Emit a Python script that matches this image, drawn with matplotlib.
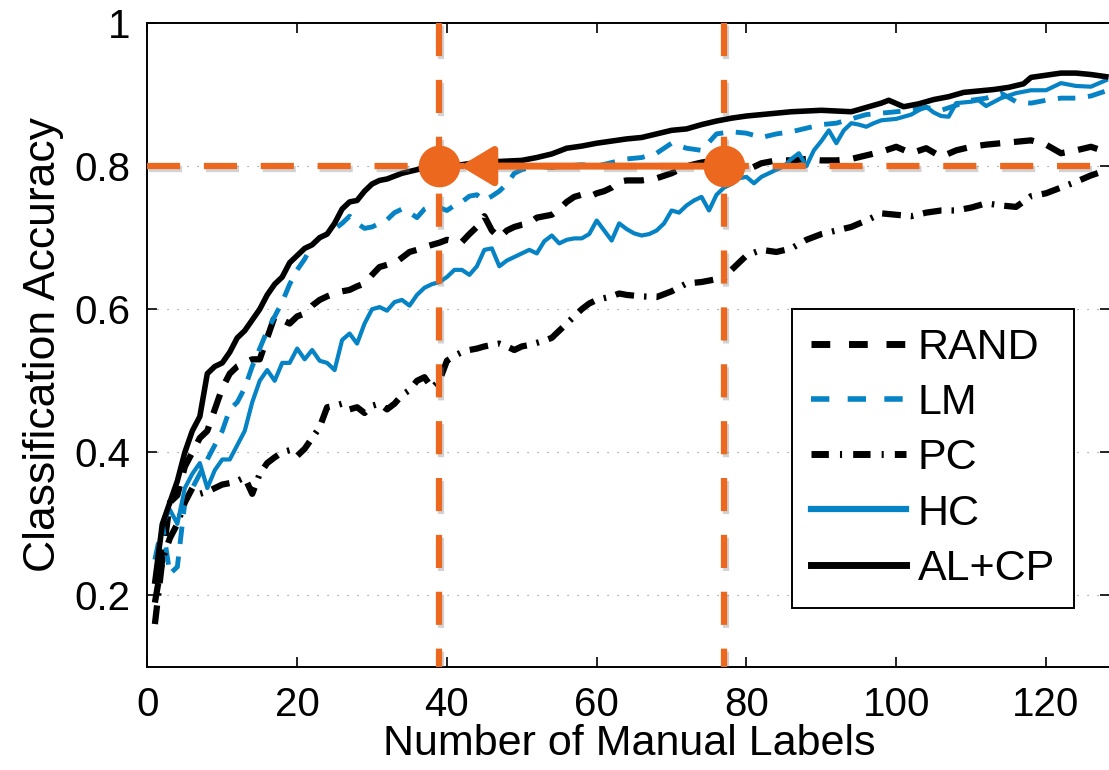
import matplotlib
matplotlib.use('Agg')
import matplotlib.pyplot as plt
import matplotlib.patheffects as pe

plt.rcParams['font.family'] = ['Liberation Sans', 'DejaVu Sans']

# Dane (liczba etykiet, dokładność klasyfikacji)
rand_x = [1, 2, 3, 4, 5, 6, 7, 8, 9, 10, 11, 12, 13, 14, 15, 16, 17, 18, 19, 20,
          21, 22, 23, 24, 25, 26, 27, 28, 29, 30, 31, 32, 33, 34, 35, 36, 37, 38, 39, 40,
          41, 42, 43, 44, 45, 46, 47, 48, 49, 50, 51, 52, 53, 54, 55, 56, 57, 58, 59, 60,
          61, 62, 63, 64, 66, 68, 70, 72, 74, 76, 78, 80, 82, 84, 86, 88, 90, 92, 94, 96,
          98, 100, 102, 104, 106, 108, 110, 112, 114, 116, 118, 120, 122, 124, 126, 128]
rand_y = [0.19, 0.25, 0.33, 0.34, 0.38, 0.40, 0.42, 0.43, 0.46, 0.49, 0.51, 0.52, 0.525, 0.53, 0.53, 0.56, 0.59, 0.585, 0.58, 0.59,
          0.594, 0.605, 0.613, 0.618, 0.622, 0.625, 0.627, 0.632, 0.636, 0.648, 0.659, 0.662, 0.664, 0.672, 0.68, 0.683, 0.687, 0.69, 0.693, 0.697,
          0.695, 0.694, 0.705, 0.715, 0.73, 0.71, 0.70, 0.71, 0.715, 0.718, 0.72, 0.728, 0.73, 0.732, 0.74, 0.75, 0.757, 0.76, 0.757, 0.762,
          0.765, 0.77, 0.778, 0.78, 0.78, 0.783, 0.79, 0.80, 0.805, 0.808, 0.80, 0.794, 0.804, 0.808, 0.808, 0.81, 0.808, 0.808, 0.81, 0.815,
          0.82, 0.827, 0.818, 0.825, 0.813, 0.822, 0.827, 0.83, 0.832, 0.834, 0.836, 0.83, 0.818, 0.822, 0.827, 0.82]

lm_x = [1, 2, 3, 4, 5, 6, 7, 8, 9, 10, 11, 12, 13, 14, 15, 16, 17, 18, 19, 20,
        21, 22, 23, 24, 25, 26, 27, 28, 29, 30, 31, 32, 33, 34, 35, 36, 37, 38, 39, 40,
        41, 42, 43, 44, 45, 46, 47, 48, 49, 50, 52, 54, 56, 58, 60, 62, 64, 66, 68, 70,
        72, 74, 76, 78, 80, 82, 84, 86, 88, 90, 92, 94, 96, 98, 100, 102, 104, 106, 108, 110,
        112, 114, 116, 118, 120, 122, 124, 126, 128]
lm_y = [0.25, 0.30, 0.23, 0.24, 0.33, 0.35, 0.37, 0.39, 0.41, 0.43, 0.46, 0.47, 0.49, 0.52, 0.545, 0.57, 0.59, 0.61, 0.635, 0.655,
        0.67, 0.69, 0.70, 0.705, 0.712, 0.72, 0.73, 0.72, 0.713, 0.715, 0.72, 0.725, 0.735, 0.74, 0.735, 0.728, 0.74, 0.745, 0.742, 0.738,
        0.745, 0.75, 0.758, 0.76, 0.752, 0.758, 0.765, 0.775, 0.79, 0.795, 0.80, 0.798, 0.80, 0.802, 0.80, 0.805, 0.81, 0.812, 0.818, 0.832,
        0.825, 0.822, 0.845, 0.848, 0.846, 0.84, 0.845, 0.848, 0.853, 0.858, 0.86, 0.866, 0.872, 0.874, 0.876, 0.878, 0.882, 0.878, 0.885, 0.892,
        0.895, 0.902, 0.89, 0.888, 0.892, 0.895, 0.895, 0.898, 0.905]

pc_x = [1, 2, 3, 4, 5, 6, 7, 8, 9, 10, 11, 12, 13, 14, 15, 16, 17, 18, 19, 20,
        21, 22, 23, 24, 25, 26, 27, 28, 29, 30, 31, 32, 33, 34, 35, 36, 37, 38, 39, 40,
        41, 42, 43, 44, 45, 46, 47, 48, 49, 50, 51, 52, 53, 54, 55, 56, 57, 58, 59, 60,
        62, 63, 64, 66, 68, 70, 72, 74, 76, 77, 78, 80, 82, 84, 86, 88, 90, 92, 94, 96,
        98, 100, 102, 104, 106, 108, 110, 112, 114, 116, 118, 120, 122, 124, 126, 128]
pc_y = [0.16, 0.25, 0.28, 0.30, 0.33, 0.35, 0.342, 0.345, 0.35, 0.355, 0.357, 0.36, 0.365, 0.342, 0.37, 0.385, 0.393, 0.40, 0.403, 0.395,
        0.405, 0.42, 0.435, 0.463, 0.465, 0.468, 0.46, 0.463, 0.455, 0.465, 0.468, 0.46, 0.468, 0.48, 0.487, 0.50, 0.505, 0.49, 0.50, 0.528,
        0.535, 0.54, 0.543, 0.545, 0.548, 0.55, 0.552, 0.548, 0.543, 0.548, 0.55, 0.553, 0.556, 0.56, 0.57, 0.58, 0.59, 0.60, 0.608, 0.613,
        0.618, 0.622, 0.62, 0.618, 0.617, 0.625, 0.636, 0.638, 0.642, 0.643, 0.655, 0.675, 0.683, 0.68, 0.685, 0.697, 0.705, 0.71, 0.715, 0.724,
        0.734, 0.732, 0.73, 0.735, 0.738, 0.738, 0.742, 0.748, 0.745, 0.743, 0.758, 0.762, 0.77, 0.778, 0.787, 0.794]

hc_x = [1, 2, 3, 4, 5, 6, 7, 8, 9, 10, 11, 12, 13, 14, 15, 16, 17, 18, 19, 20,
        21, 22, 23, 24, 25, 26, 27, 28, 29, 30, 31, 32, 33, 34, 35, 36, 37, 38, 39, 40,
        41, 42, 43, 44, 45, 46, 47, 48, 49, 50, 51, 52, 53, 54, 55, 56, 57, 58, 59, 60,
        61, 62, 63, 64, 65, 66, 67, 68, 69, 70, 71, 72, 73, 74, 75, 76, 77, 78, 79, 80,
        81, 82, 83, 84, 85, 86, 87, 88, 89, 90, 91, 92, 93, 94, 95, 96, 97, 98, 100, 101,
        102, 103, 104, 105, 106, 107, 108, 110, 111, 112, 114, 116, 118, 120, 122, 124, 126, 128]
hc_y = [0.22, 0.30, 0.32, 0.30, 0.35, 0.37, 0.385, 0.35, 0.375, 0.39, 0.39, 0.41, 0.43, 0.47, 0.50, 0.515, 0.50, 0.525, 0.525, 0.545,
        0.53, 0.543, 0.528, 0.525, 0.515, 0.557, 0.566, 0.552, 0.58, 0.60, 0.603, 0.598, 0.61, 0.613, 0.605, 0.62, 0.63, 0.635, 0.638, 0.645,
        0.655, 0.655, 0.648, 0.66, 0.683, 0.685, 0.66, 0.668, 0.673, 0.678, 0.683, 0.678, 0.695, 0.703, 0.692, 0.697, 0.699, 0.699, 0.705, 0.724,
        0.71, 0.696, 0.72, 0.712, 0.706, 0.703, 0.705, 0.71, 0.72, 0.738, 0.735, 0.745, 0.752, 0.757, 0.738, 0.76, 0.77, 0.775, 0.783, 0.785,
        0.776, 0.785, 0.79, 0.795, 0.80, 0.81, 0.818, 0.80, 0.822, 0.835, 0.85, 0.832, 0.85, 0.86, 0.858, 0.855, 0.86, 0.864, 0.866, 0.869,
        0.872, 0.878, 0.883, 0.875, 0.87, 0.869, 0.888, 0.89, 0.892, 0.884, 0.895, 0.902, 0.906, 0.906, 0.916, 0.912, 0.911, 0.92]

alcp_x = [1, 2, 3, 4, 5, 6, 7, 8, 9, 10, 11, 12, 13, 14, 15, 16, 17, 18, 19, 20,
          21, 22, 23, 24, 25, 26, 27, 28, 29, 30, 31, 32, 34, 36, 38, 40, 42, 44, 46, 48,
          50, 52, 54, 56, 58, 60, 62, 64, 66, 68, 70, 72, 74, 76, 78, 80, 82, 84, 86, 88,
          90, 92, 94, 96, 98, 99, 101, 103, 105, 107, 109, 111, 113, 115, 117, 118, 120, 122, 124, 126, 128]
alcp_y = [0.22, 0.30, 0.33, 0.36, 0.40, 0.43, 0.45, 0.51, 0.52, 0.525, 0.54, 0.56, 0.57, 0.585, 0.60, 0.62, 0.635, 0.645, 0.665, 0.675,
          0.685, 0.69, 0.70, 0.705, 0.72, 0.74, 0.75, 0.752, 0.765, 0.775, 0.78, 0.782, 0.79, 0.795, 0.80, 0.80, 0.802, 0.805, 0.806, 0.807,
          0.808, 0.812, 0.817, 0.825, 0.828, 0.832, 0.835, 0.838, 0.84, 0.845, 0.85, 0.852, 0.858, 0.863, 0.867, 0.87, 0.872, 0.874, 0.876, 0.877,
          0.878, 0.877, 0.876, 0.882, 0.888, 0.892, 0.883, 0.887, 0.893, 0.897, 0.903, 0.905, 0.907, 0.91, 0.915, 0.924, 0.927, 0.93, 0.93, 0.928, 0.925]

# Znaczniki pomocnicze (pomarańczowe)
x_alcp = 39      # liczba etykiet dla AL+CP przy docelowej dokładności
x_hc = 77        # liczba etykiet dla HC przy docelowej dokładności
acc_target = 0.8

xticks = [0, 20, 40, 60, 80, 100, 120]
yticks = [0.2, 0.4, 0.6, 0.8, 1.0]
ytick_labels = ['0.2', '0.4', '0.6', '0.8', '1']

blue = '#0683C4'
orange = '#EB681E'

fig = plt.figure(figsize=(11.09, 7.70), dpi=100)
ax = fig.add_axes([147.4 / 1109, 103 / 770, 963 / 1109, 644 / 770])

ax.plot(rand_x, rand_y, color='black', lw=4.5, dashes=(3.2, 2.2), label='RAND')
ax.plot(lm_x, lm_y, color=blue, lw=3.5, dashes=(3.6, 2.6), label='LM')
ax.plot(pc_x, pc_y, color='black', lw=4.5, dashes=(3.0, 1.6, 0.4, 1.6), label='PC')
ax.plot(hc_x, hc_y, color=blue, lw=3, label='HC')
ax.plot(alcp_x, alcp_y, color='black', lw=4, label='AL+CP')

xmin, xmax = 0, 128.6
ymin, ymax = 0.1, 1.0
ax.set_xlim(xmin, xmax)
ax.set_ylim(ymin, ymax)

shadow = [pe.SimpleLineShadow(offset=(1.2, -1.8), shadow_color='gray', alpha=0.35), pe.Normal()]
ax.plot([xmin, xmax], [acc_target, acc_target], color=orange, lw=4.5, dashes=(5.3, 3.8),
        path_effects=shadow, zorder=5)
for xv in (x_alcp, x_hc):
    ax.plot([xv, xv], [ymax, ymin], color=orange, lw=4.5, dashes=(5.3, 3.8),
            path_effects=shadow, zorder=5)

ax.annotate('', xy=(x_alcp, acc_target), xytext=(x_hc, acc_target),
            arrowprops=dict(arrowstyle='-|>,head_length=1.0,head_width=0.6',
                            mutation_scale=20, color=orange, lw=5,
                            shrinkA=0, shrinkB=15),
            zorder=6)
ax.plot([x_alcp, x_hc], [acc_target, acc_target], 'o', color=orange, ms=30,
        mec='none', zorder=7)

ax.set_xticks(xticks)
ax.set_yticks(yticks)
ax.set_yticklabels(ytick_labels)
ax.tick_params(direction='in', length=7, width=1.2, top=True, right=True,
               labelsize=29)
ax.tick_params(axis='x', pad=14)
ax.tick_params(axis='y', pad=12)
ax.yaxis.grid(True, color='#808080', lw=0.8, linestyle=(0, (1, 8)))
for s in ax.spines.values():
    s.set_linewidth(1.4)

ax.set_xlabel('Number of Manual Labels', fontsize=31, labelpad=0)
ax.set_ylabel('Classification Accuracy', fontsize=32, labelpad=8)

leg = ax.legend(loc='lower right', bbox_to_anchor=(0.9625, 0.0916), borderaxespad=0,
                fontsize=31, fancybox=False, framealpha=1, edgecolor='black',
                handlelength=2.2, handletextpad=0.28, labelspacing=0.35,
                borderpad=0.45)
leg.get_frame().set_linewidth(1.4)
# grubsze linie w legendzie, jak w oryginale
leg_lines = leg.get_lines()
leg_lines[0].set_linewidth(5)
leg_lines[0].set_dashes((2.7, 2.7))
leg_lines[1].set_linewidth(4)
leg_lines[1].set_dashes((3.3, 3.3))
leg_lines[2].set_linewidth(5)
leg_lines[2].set_dashes((2.5, 1.6, 0.3, 1.6))
leg_lines[3].set_linewidth(4.5)
leg_lines[4].set_linewidth(5)

plt.savefig('out.png', dpi=100)
